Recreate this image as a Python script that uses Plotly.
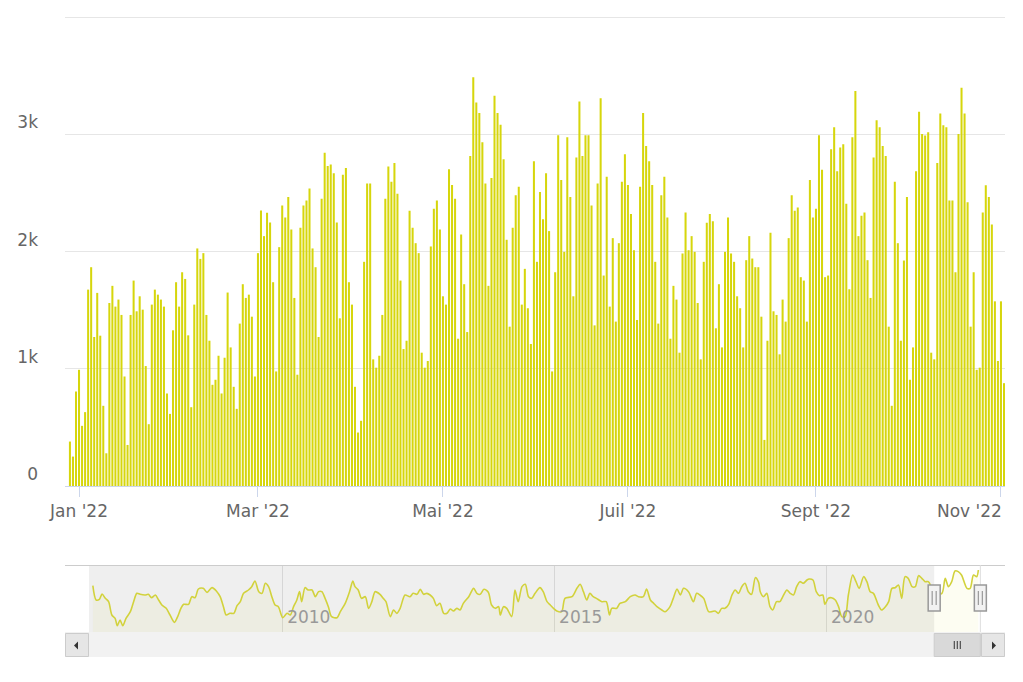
import plotly.graph_objects as go
import pandas as pd

W, H = 1023, 682

# ---------------- main series: daily values, Dec 29 2021 .. Nov 2 2022 ----------------
start_date = "2021-12-29"
dec21 = [379, 251, 806]
jan = [991, 513, 630, 1675, 1866, 1271, 1647, 1282, 684, 279, 1561, 1707, 1530, 1590, 1459,
       934, 350, 1459, 1752, 1490, 1618, 1504, 1023, 527, 1547, 1675, 1632, 1590, 1530, 789, 615]
feb = [1328, 1738, 1530, 1823, 1766, 1285, 672, 1547, 2026, 1937, 1986, 1459, 1239, 863,
       906, 1111, 789, 1094, 1650, 1182, 846, 658, 1385, 1721, 1604, 1632, 1444, 934]
mar = [1986, 2350, 2131, 2330, 2248, 1738, 977, 2037, 2393, 2291, 2464, 2188, 1604, 949, 2202,
       2393, 2436, 2538, 2026, 1866, 1271, 2450, 2843, 2729, 2741, 2667, 2248, 1430, 2655, 2712, 1738]
apr = [1547, 846, 456, 556, 1912, 2581, 2581, 1080, 1009, 1111, 1459, 2450, 2726, 2595, 2755,
       2493, 1752, 1168, 1239, 2348, 2202, 2071, 1986, 1137, 1009, 1066, 2043, 2365, 2436, 2188]
may = [1618, 1547, 2701, 2567, 2450, 1256, 2145, 1721, 1313, 2815, 3487, 3271, 3182, 2932, 2581,
       1707, 2627, 3328, 3182, 3080, 2786, 2100, 1359, 2202, 2479, 2553, 1547, 1852, 1516, 1211, 2769]
jun = [1912, 2507, 2276, 2667, 2174, 977, 1823, 2991, 2610, 1997, 2974, 2464, 1618, 2801, 3279,
       2815, 2991, 2991, 2393, 1370, 2581, 3308, 1795, 2638, 1530, 2114, 1402, 2071, 2595, 2829]
jul = [2567, 2319, 2011, 1416, 2553, 3182, 2900, 2769, 2567, 1912, 1385, 2479, 2638, 2291, 1256,
       1707, 1590, 1137, 1983, 2333, 2011, 2131, 1997, 1561, 1080, 1912, 2245, 2319, 2259, 1345, 1721]
aug = [1182, 1997, 2291, 1983, 1912, 1618, 1516, 1182, 1926, 2131, 1940, 1866, 1866, 1444, 393,
       1239, 2160, 1490, 1459, 1123, 1590, 1402, 2114, 2479, 2348, 2376, 1781, 1752, 1402, 2610, 2291]
sep = [2365, 2991, 2698, 1781, 1795, 2872, 3060, 2684, 2886, 2915, 2407, 1678, 2974, 3368, 2131,
       2305, 2333, 1926, 1604, 2801, 3120, 3060, 2900, 2815, 1359, 684, 2595, 2071, 1239, 1923]
oct_ = [2464, 906, 1182, 2684, 3191, 3003, 2989, 3017, 1137, 1080, 2755, 3177, 3077, 3060, 2436,
        2436, 1823, 3003, 3396, 3177, 2419, 1359, 1823, 991, 1009, 2333, 2564, 2464, 2231, 1575, 1066]
nov = [1575, 877]

values = dec21 + jan + feb + mar + apr + may + jun + jul + aug + sep + oct_ + nov
dates = pd.date_range(start_date, periods=len(values), freq="D")

# visible window of main chart
main_range = ["2021-12-27 09:00", "2022-11-02 08:00"]

x_tick_dates = ["2022-01-01", "2022-03-01", "2022-05-01", "2022-07-01", "2022-09-01", "2022-11-01"]
x_tick_text = ["Jan '22", "Mar '22", "Mai '22", "Juil '22", "Sept '22", ""]
last_tick_label = "Nov '22"   # drawn right-aligned at its tick (like the edge label in the reference)
y_tick_vals = [0, 1000, 2000, 3000, 4000]
y_tick_text = ["0", "1k", "2k", "3k", ""]

# ---------------- navigator series (smoothed overview), decimal years ----------------
nav_years = [
    2006.52, 2006.58, 2006.64, 2006.69, 2006.75, 2006.81, 2006.87, 2006.93, 2006.97, 2007.02,
    2007.07, 2007.13, 2007.21, 2007.27, 2007.33, 2007.39, 2007.48, 2007.54, 2007.60, 2007.67,
    2007.73, 2007.79, 2007.87, 2007.94, 2008.02, 2008.08, 2008.14, 2008.19, 2008.28, 2008.34,
    2008.40, 2008.46, 2008.55, 2008.62, 2008.71, 2008.80, 2008.86, 2008.92, 2008.97, 2009.04,
    2009.11, 2009.17, 2009.23, 2009.29, 2009.38, 2009.44, 2009.50, 2009.57, 2009.63, 2009.69,
    2009.75, 2009.81, 2009.87, 2009.93, 2010.01, 2010.09, 2010.15, 2010.21, 2010.27, 2010.32,
    2010.36, 2010.42, 2010.48, 2010.55, 2010.61, 2010.67, 2010.73, 2010.79, 2010.85, 2010.91,
    2011.01, 2011.07, 2011.16, 2011.24, 2011.30, 2011.34, 2011.40, 2011.46, 2011.53, 2011.59,
    2011.65, 2011.71, 2011.80, 2011.86, 2011.91, 2011.99, 2012.05, 2012.11, 2012.17, 2012.26,
    2012.35, 2012.41, 2012.48, 2012.54, 2012.60, 2012.66, 2012.72, 2012.78, 2012.84, 2012.90,
    2012.97, 2013.03, 2013.09, 2013.15, 2013.21, 2013.27, 2013.33, 2013.43, 2013.52, 2013.58,
    2013.64, 2013.71, 2013.79, 2013.85, 2013.92, 2013.98, 2014.01, 2014.07, 2014.13, 2014.22,
    2014.28, 2014.34, 2014.41, 2014.47, 2014.53, 2014.59, 2014.65, 2014.74, 2014.80, 2014.87,
    2014.93, 2014.99, 2015.05, 2015.14, 2015.20, 2015.33, 2015.42, 2015.48, 2015.54, 2015.60,
    2015.66, 2015.72, 2015.78, 2015.88, 2015.96, 2016.02, 2016.06, 2016.15, 2016.21, 2016.31,
    2016.40, 2016.49, 2016.55, 2016.64, 2016.70, 2016.77, 2016.83, 2016.89, 2016.98, 2017.04,
    2017.13, 2017.19, 2017.26, 2017.32, 2017.38, 2017.47, 2017.56, 2017.62, 2017.68, 2017.75,
    2017.84, 2017.90, 2017.96, 2018.02, 2018.08, 2018.14, 2018.21, 2018.27, 2018.33, 2018.39,
    2018.45, 2018.51, 2018.57, 2018.63, 2018.70, 2018.76, 2018.79, 2018.85, 2018.91, 2018.97,
    2019.02, 2019.09, 2019.15, 2019.22, 2019.28, 2019.34, 2019.40, 2019.46, 2019.52, 2019.58,
    2019.65, 2019.69, 2019.76, 2019.82, 2019.88, 2019.94, 2019.98, 2020.04, 2020.10, 2020.17,
    2020.23, 2020.29, 2020.35, 2020.41, 2020.49, 2020.55, 2020.61, 2020.69, 2020.75, 2020.81,
    2020.87, 2020.96, 2021.02, 2021.09, 2021.15, 2021.21, 2021.27, 2021.33, 2021.39, 2021.45,
    2021.51, 2021.58, 2021.64, 2021.70, 2021.76, 2021.82, 2021.88, 2021.95, 2022.03, 2022.13,
    2022.19, 2022.25, 2022.31, 2022.37, 2022.43, 2022.49, 2022.59, 2022.65, 2022.71, 2022.77,
    2022.80,
]
nav_values = [
    1390, 960, 980, 1140, 1010, 910, 510, 410, 190, 360,
    190, 410, 610, 910, 1160, 1130, 1110, 1130, 1030, 1110,
    960, 810, 710, 510, 290, 460, 710, 830, 830, 1060,
    1030, 1290, 1310, 1190, 1330, 1210, 1060, 760, 510, 560,
    560, 790, 910, 1160, 1260, 1360, 1530, 1210, 1160, 1460,
    1360, 1060, 810, 760, 430, 560, 510, 760, 960, 1210,
    910, 1330, 1260, 1260, 1060, 1210, 1210, 1010, 760, 460,
    430, 610, 860, 1210, 1530, 1360, 1260, 1010, 1060, 710,
    910, 1210, 1130, 1010, 910, 460, 660, 560, 710, 1110,
    1060, 1160, 1130, 1280, 1130, 1160, 1110, 1010, 790, 860,
    560, 560, 690, 630, 710, 660, 860, 1060, 1310, 1160,
    1130, 1280, 1190, 810, 710, 760, 510, 760, 710, 460,
    1260, 910, 1360, 1430, 1060, 1010, 1160, 1330, 1210, 910,
    810, 710, 630, 610, 1010, 1060, 1310, 1430, 1210, 960,
    1160, 1060, 1010, 910, 910, 510, 710, 710, 860, 910,
    1060, 1110, 1060, 1060, 1290, 960, 860, 760, 660, 610,
    760, 1010, 1290, 1110, 1310, 1210, 910, 1160, 1110, 1010,
    610, 610, 630, 560, 710, 710, 830, 1110, 1260, 1160,
    1360, 1460, 1210, 1130, 1630, 1490, 1210, 1060, 1160, 760,
    660, 910, 910, 1110, 1260, 1160, 1110, 1360, 1510, 1460,
    1560, 1590, 1560, 1210, 1090, 1110, 830, 1010, 1030, 960,
    760, 460, 460, 1110, 1710, 1510, 1310, 1660, 1510, 1210,
    1160, 810, 660, 760, 910, 1310, 1330, 1410, 1010, 1660,
    1610, 1360, 1360, 1690, 1610, 1510, 1510, 1300, 1150, 1160,
    1610, 1360, 1510, 1830, 1810, 1710, 1310, 1310, 1710, 1660,
    1860,
]
nav_range = ["2006-06-14", "2022-10-31"]
nav_tick_dates = ["2010-01-01", "2015-01-01", "2020-01-01"]
nav_tick_text = ["2010", "2015", "2020"]


def dec_year(y):
    yr = int(y)
    a = pd.Timestamp(yr, 1, 1)
    b = pd.Timestamp(yr + 1, 1, 1)
    return a + (b - a) * (y - yr)


nav_dates = [dec_year(y) for y in nav_years]

# layout geometry (pixels)
MAIN_L, MAIN_R, MAIN_T, MAIN_B = 65, 1005, 17, 486
NAV_L, NAV_R, NAV_T, NAV_B = 89, 980, 565, 632
SB_T, SB_B = 632, 657


def px(x):
    return x / W


def py(y):
    return 1 - y / H


def nav_paper(d):
    """Paper x of a date on the navigator axis."""
    t0, t1 = pd.Timestamp(nav_range[0]), pd.Timestamp(nav_range[1])
    f = (pd.Timestamp(d) - t0) / (t1 - t0)
    return px(NAV_L + f * (NAV_R - NAV_L))


BAR = "#d6d60c"
FONT = "DejaVu Sans"

fig = go.Figure()
fig.add_trace(go.Bar(x=dates, y=values, marker=dict(color=BAR, line=dict(width=0)),
                     xaxis="x", yaxis="y", hoverinfo="x+y"))
fig.add_trace(go.Scatter(x=nav_dates, y=nav_values, mode="lines",
                         line=dict(color="#d2d23c", width=1.6, shape="spline", smoothing=0.8),
                         fill="tozeroy", fillcolor="rgba(210,210,0,0.05)",
                         xaxis="x2", yaxis="y2", hoverinfo="skip"))

shapes = []
# top gridline (4k)
shapes.append(dict(type="line", xref="paper", yref="paper", x0=px(MAIN_L), x1=px(MAIN_R),
                   y0=py(MAIN_T + 0.5), y1=py(MAIN_T + 0.5),
                   line=dict(color="#e6e6e6", width=1), layer="below"))
# navigator mask (outside the selected window)
shapes.append(dict(type="rect", xref="x2", yref="y2 domain", x0=nav_range[0], x1=main_range[0],
                   y0=0, y1=1, fillcolor="rgba(120,120,120,0.12)", line=dict(width=0), layer="below"))
# navigator outline
shapes.append(dict(type="line", xref="paper", yref="paper", x0=px(MAIN_L), x1=px(MAIN_R),
                   y0=py(NAV_T + 0.5), y1=py(NAV_T + 0.5), line=dict(color="#cccccc", width=1)))
shapes.append(dict(type="line", xref="paper", yref="paper", x0=nav_paper(main_range[1]),
                   x1=nav_paper(main_range[1]), y0=py(NAV_B), y1=py(NAV_T),
                   line=dict(color="#dddddd", width=1)))
# scrollbar track
shapes.append(dict(type="rect", xref="paper", yref="paper", x0=px(MAIN_L), x1=px(MAIN_R),
                   y0=py(SB_B), y1=py(SB_T), fillcolor="#f2f2f2", line=dict(width=0), layer="above"))
# scrollbar buttons
for bx0, bx1 in [(MAIN_L, NAV_L), (NAV_R + 1, MAIN_R)]:
    shapes.append(dict(type="rect", xref="paper", yref="paper", x0=px(bx0 + 0.5), x1=px(bx1 - 0.5),
                       y0=py(SB_B - 0.5), y1=py(SB_T + 1.5), fillcolor="#e6e6e6",
                       line=dict(color="#cccccc", width=1)))
# arrows
shapes.append(dict(type="path", xref="paper", yref="paper",
                   path=f"M {px(74)},{py(645.5)} L {px(78)},{py(641.5)} L {px(78)},{py(649.5)} Z",
                   fillcolor="#333333", line=dict(width=0)))
shapes.append(dict(type="path", xref="paper", yref="paper",
                   path=f"M {px(996)},{py(645.5)} L {px(992)},{py(641.5)} L {px(992)},{py(649.5)} Z",
                   fillcolor="#333333", line=dict(width=0)))
# scrollbar thumb (spans the selected window)
t_l, t_r = nav_paper(main_range[0]), nav_paper(main_range[1])
shapes.append(dict(type="rect", xref="paper", yref="paper", x0=t_l, x1=t_r,
                   y0=py(SB_B - 0.5), y1=py(SB_T + 1.5), fillcolor="#d9d9d9",
                   line=dict(color="#cccccc", width=1)))
t_mid = (t_l + t_r) / 2
for off in (-3, 0, 3):
    shapes.append(dict(type="line", xref="paper", yref="paper", x0=t_mid + px(off), x1=t_mid + px(off),
                       y0=py(649), y1=py(641), line=dict(color="#333333", width=1)))
# navigator handles
for edge in main_range:
    c = nav_paper(edge)
    shapes.append(dict(type="rect", xref="paper", yref="paper", x0=c - px(6), x1=c + px(6),
                       y0=py(611), y1=py(585), fillcolor="#f2f2f2",
                       line=dict(color="#999999", width=1.5)))
    for off in (-2, 2):
        shapes.append(dict(type="line", xref="paper", yref="paper", x0=c + px(off), x1=c + px(off),
                           y0=py(605), y1=py(591), line=dict(color="#999999", width=1.2)))

annotations = [
    dict(text=last_tick_label, xref="x", yref="paper", x=x_tick_dates[-1], xanchor="right", xshift=3,
         y=py(511), yanchor="middle", showarrow=False,
         font=dict(size=17, color="#666666", family=FONT)),
]

fig.update_layout(
    width=W, height=H,
    margin=dict(l=0, r=0, t=0, b=0, autoexpand=False),
    paper_bgcolor="white", plot_bgcolor="white",
    showlegend=False, bargap=0.33,
    font=dict(family=FONT, color="#666666"),
    shapes=shapes, annotations=annotations,
    xaxis=dict(domain=[px(MAIN_L), px(MAIN_R)], anchor="y", type="date", range=main_range,
               tickvals=x_tick_dates, ticktext=x_tick_text, ticks="outside", ticklen=10,
               tickcolor="#ccd6eb", tickwidth=1, showline=True, linecolor="#ccd6eb", linewidth=1,
               showgrid=False, zeroline=False, automargin=False,
               tickfont=dict(size=17, color="#666666", family=FONT)),
    yaxis=dict(domain=[py(MAIN_B), py(MAIN_T)], anchor="x", range=[0, 4000],
               tickvals=y_tick_vals, ticktext=y_tick_text, showgrid=True, gridcolor="#e6e6e6",
               gridwidth=1, zeroline=False, showline=False, ticks="", automargin=False,
               ticklabelposition="outside top", ticklabelstandoff=26,
               tickfont=dict(size=17, color="#666666", family=FONT)),
    xaxis2=dict(domain=[px(NAV_L), px(NAV_R)], anchor="y2", type="date", range=nav_range,
                tickvals=nav_tick_dates, ticktext=nav_tick_text, showgrid=True, gridcolor="#d6d6d6",
                gridwidth=1, ticks="", showline=False, zeroline=False, automargin=False,
                ticklabelposition="inside right", ticklabelshift=5,
                tickfont=dict(size=17, color="#999999", family=FONT)),
    yaxis2=dict(domain=[py(NAV_B), py(NAV_T)], anchor="x2", range=[0, 2010], visible=False,
                fixedrange=True, automargin=False),
)

fig.write_html("out.html")
